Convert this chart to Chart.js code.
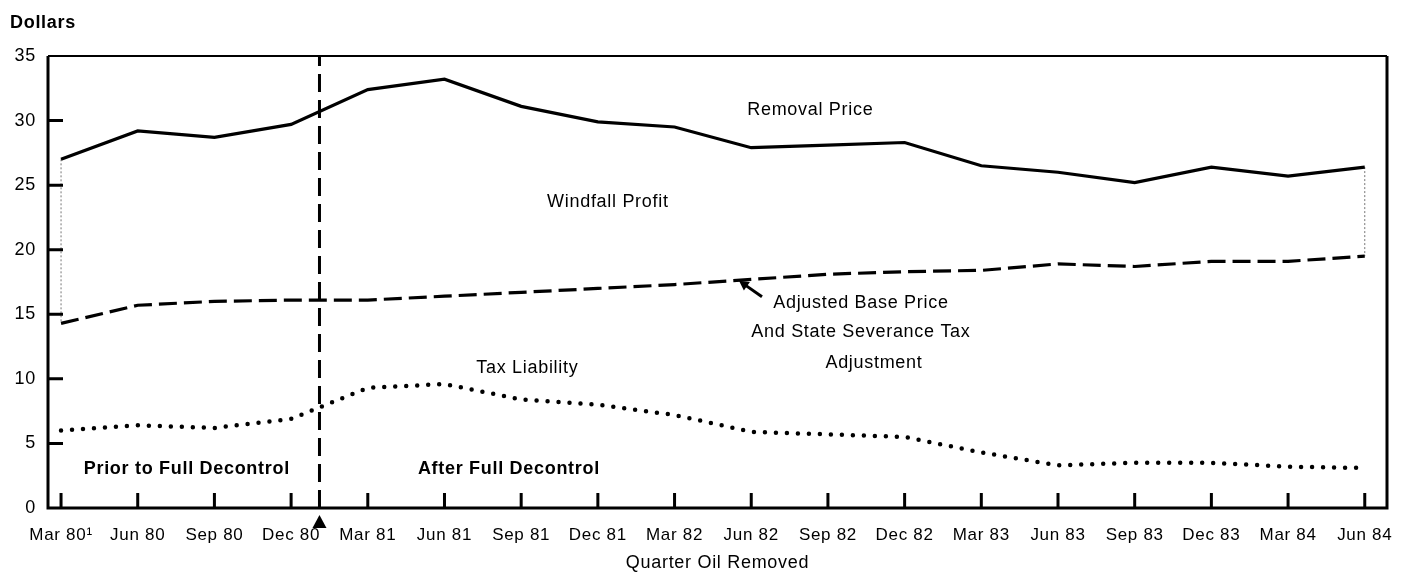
<!DOCTYPE html>
<html>
<head>
<meta charset="utf-8">
<script src="https://cdn.jsdelivr.net/npm/chart.js@4"></script>
<style>
  html, body { margin: 0; padding: 0; background: #fff; }
  canvas { display: block; }
</style>
</head>
<body>
<canvas id="windfallChart" width="1401" height="572"></canvas>
<script>
// quarters on the x axis
const quarters = ['Mar 80\u00B9', 'Jun 80', 'Sep 80', 'Dec 80', 'Mar 81', 'Jun 81', 'Sep 81', 'Dec 81', 'Mar 82',
  'Jun 82', 'Sep 82', 'Dec 82', 'Mar 83', 'Jun 83', 'Sep 83', 'Dec 83', 'Mar 84', 'Jun 84']

// dollars per barrel
const removalPrice = [27.0, 29.2, 28.7, 29.7, 32.4, 33.2, 31.1, 29.9, 29.5,
  27.9, 28.1, 28.3, 26.5, 26.0, 25.2, 26.4, 25.7, 26.4]
const adjustedBasePrice = [14.3, 15.7, 16.0, 16.1, 16.1, 16.4, 16.7, 17.0, 17.3,
  17.7, 18.1, 18.3, 18.4, 18.9, 18.7, 19.1, 19.1, 19.5]
const taxLiability = [6.0, 6.4, 6.2, 6.9, 9.3, 9.6, 8.4, 8.0, 7.2,
  5.9, 5.7, 5.5, 4.3, 3.3, 3.5, 3.5, 3.2, 3.1]

const yTicks = [0, 5, 10, 15, 20, 25, 30, 35]
const decontrolAt = 3.37   // full decontrol, late Jan 1981

const FONT = "'Liberation Sans', Arial, Helvetica, sans-serif"
Chart.defaults.font.family = FONT
Chart.defaults.color = '#000'

const toPoints = arr => arr.map((v, i) => ({ x: i, y: v }))
const last = quarters.length - 1

// text notes placed in data units
const notes = [
  { text: 'Removal Price', x: 9.77, y: 30.85 },
  { text: 'Windfall Profit', x: 7.13, y: 23.7 },
  { text: 'Tax Liability', x: 6.08, y: 10.8 },
  { text: 'Adjusted Base Price', x: 10.43, y: 15.9 },
  { text: 'And State Severance Tax', x: 10.43, y: 13.64 },
  { text: 'Adjustment', x: 10.6, y: 11.25 },
  { text: 'Prior to Full Decontrol', x: 1.64, y: 3.0, bold: true },
  { text: 'After Full Decontrol', x: 5.84, y: 3.0, bold: true }
]

const framePlugin = {
  id: 'frame',
  beforeDraw(chart) {
    chart.ctx.letterSpacing = '0.7px'
  },
  afterDatasetsDraw(chart) {
    const { ctx, chartArea: a, scales: { x, y } } = chart
    ctx.save()
    ctx.strokeStyle = '#000'
    ctx.fillStyle = '#000'
    ctx.lineCap = 'butt'

    // box round the plot
    ctx.lineWidth = 3
    ctx.beginPath()
    ctx.moveTo(a.left, a.top)
    ctx.lineTo(a.left, a.bottom)
    ctx.lineTo(a.right, a.bottom)
    ctx.lineTo(a.right, a.top)
    ctx.stroke()
    ctx.lineWidth = 2
    ctx.beginPath()
    ctx.moveTo(a.left, a.top)
    ctx.lineTo(a.right, a.top)
    ctx.stroke()

    // inward tick marks
    ctx.lineWidth = 3
    ctx.beginPath()
    quarters.forEach((q, i) => {
      const px = x.getPixelForValue(i)
      ctx.moveTo(px, a.bottom)
      ctx.lineTo(px, a.bottom - 15)
    })
    yTicks.forEach(v => {
      if (v <= 0 || v >= 35) return
      const py = y.getPixelForValue(v)
      ctx.moveTo(a.left, py)
      ctx.lineTo(a.left + 15, py)
    })
    ctx.stroke()

    // marker under the decontrol line
    const dx = x.getPixelForValue(decontrolAt)
    ctx.beginPath()
    ctx.moveTo(dx, a.bottom + 7)
    ctx.lineTo(dx + 7, a.bottom + 20)
    ctx.lineTo(dx - 7, a.bottom + 20)
    ctx.closePath()
    ctx.fill()

    // arrow to the base price line
    const ax0 = x.getPixelForValue(9.14), ay0 = y.getPixelForValue(16.36)
    const ax1 = x.getPixelForValue(8.84), ay1 = y.getPixelForValue(17.6)
    const ang = Math.atan2(ay1 - ay0, ax1 - ax0)
    ctx.lineWidth = 3
    ctx.beginPath()
    ctx.moveTo(ax0, ay0)
    ctx.lineTo(ax1 - 6 * Math.cos(ang), ay1 - 6 * Math.sin(ang))
    ctx.stroke()
    ctx.beginPath()
    ctx.moveTo(ax1, ay1)
    ctx.lineTo(ax1 - 11 * Math.cos(ang - 0.5), ay1 - 11 * Math.sin(ang - 0.5))
    ctx.lineTo(ax1 - 11 * Math.cos(ang + 0.5), ay1 - 11 * Math.sin(ang + 0.5))
    ctx.closePath()
    ctx.fill()

    // notes
    ctx.textAlign = 'center'
    ctx.textBaseline = 'middle'
    ctx.letterSpacing = '0.7px'
    notes.forEach(n => {
      ctx.font = (n.bold ? 'bold ' : '') + '18px ' + FONT
      ctx.fillText(n.text, x.getPixelForValue(n.x), y.getPixelForValue(n.y))
    })

    // y axis unit
    ctx.textAlign = 'left'
    ctx.font = 'bold 18px ' + FONT
    ctx.fillText('Dollars', 10, 23)
    ctx.restore()
  }
}

const ctxEl = document.getElementById('windfallChart')
new Chart(ctxEl, {
  type: 'line',
  data: {
    datasets: [{
      label: 'Removal Price',
      data: toPoints(removalPrice),
      borderColor: '#000',
      borderWidth: 3.2,
      pointRadius: 0,
      tension: 0
    }, {
      label: 'Adjusted Base Price And State Severance Tax Adjustment',
      data: toPoints(adjustedBasePrice),
      borderColor: '#000',
      borderWidth: 3.2,
      borderDash: [18, 7],
      pointRadius: 0,
      tension: 0
    }, {
      label: 'Tax Liability',
      data: toPoints(taxLiability),
      borderColor: '#000',
      borderWidth: 4.5,
      borderDash: [0, 11],
      borderCapStyle: 'round',
      pointRadius: 0,
      tension: 0
    }, {
      label: 'Full decontrol',
      data: [{ x: decontrolAt, y: 0 }, { x: decontrolAt, y: 35 }],
      borderColor: '#000',
      borderWidth: 3,
      borderDash: [18, 8],
      pointRadius: 0
    }, {
      label: 'bracket start',
      data: [{ x: 0, y: removalPrice[0] }, { x: 0, y: adjustedBasePrice[0] }],
      borderColor: '#777',
      borderWidth: 1,
      borderDash: [2, 2],
      pointRadius: 0
    }, {
      label: 'bracket end',
      data: [{ x: last, y: removalPrice[last] }, { x: last, y: adjustedBasePrice[last] }],
      borderColor: '#777',
      borderWidth: 1,
      borderDash: [2, 2],
      pointRadius: 0
    }]
  },
  options: {
    responsive: false,
    animation: false,
    layout: { padding: { top: 56, right: 14, left: 0, bottom: 0 } },
    plugins: {
      legend: { display: false },
      tooltip: { enabled: false }
    },
    scales: {
      x: {
        type: 'linear',
        min: -0.17,
        max: 17.29,
        grid: { display: false, drawTicks: false },
        border: { display: false },
        afterBuildTicks(scale) {
          scale.ticks = quarters.map((q, i) => ({ value: i }))
        },
        ticks: {
          autoSkip: false,
          maxRotation: 0,
          padding: 17,
          color: '#000',
          font: { size: 17 },
          callback: v => quarters[v] ?? ''
        },
        title: {
          display: true,
          text: 'Quarter Oil Removed',
          color: '#000',
          font: { size: 18 },
          padding: { top: 0, bottom: -2 }
        },
        afterFit(scale) {
          scale.height = 64
          scale.paddingLeft = 0
          scale.paddingRight = 0
        }
      },
      y: {
        min: 0,
        max: 35,
        grid: { display: false, drawTicks: false },
        border: { display: false },
        afterBuildTicks(scale) {
          scale.ticks = yTicks.map(v => ({ value: v }))
        },
        ticks: {
          padding: 12,
          color: '#000',
          font: { size: 18 }
        },
        afterFit(scale) {
          scale.width = 48
          scale.paddingTop = 0
          scale.paddingBottom = 0
        }
      }
    }
  },
  plugins: [framePlugin]
})
</script>
</body>
</html>
